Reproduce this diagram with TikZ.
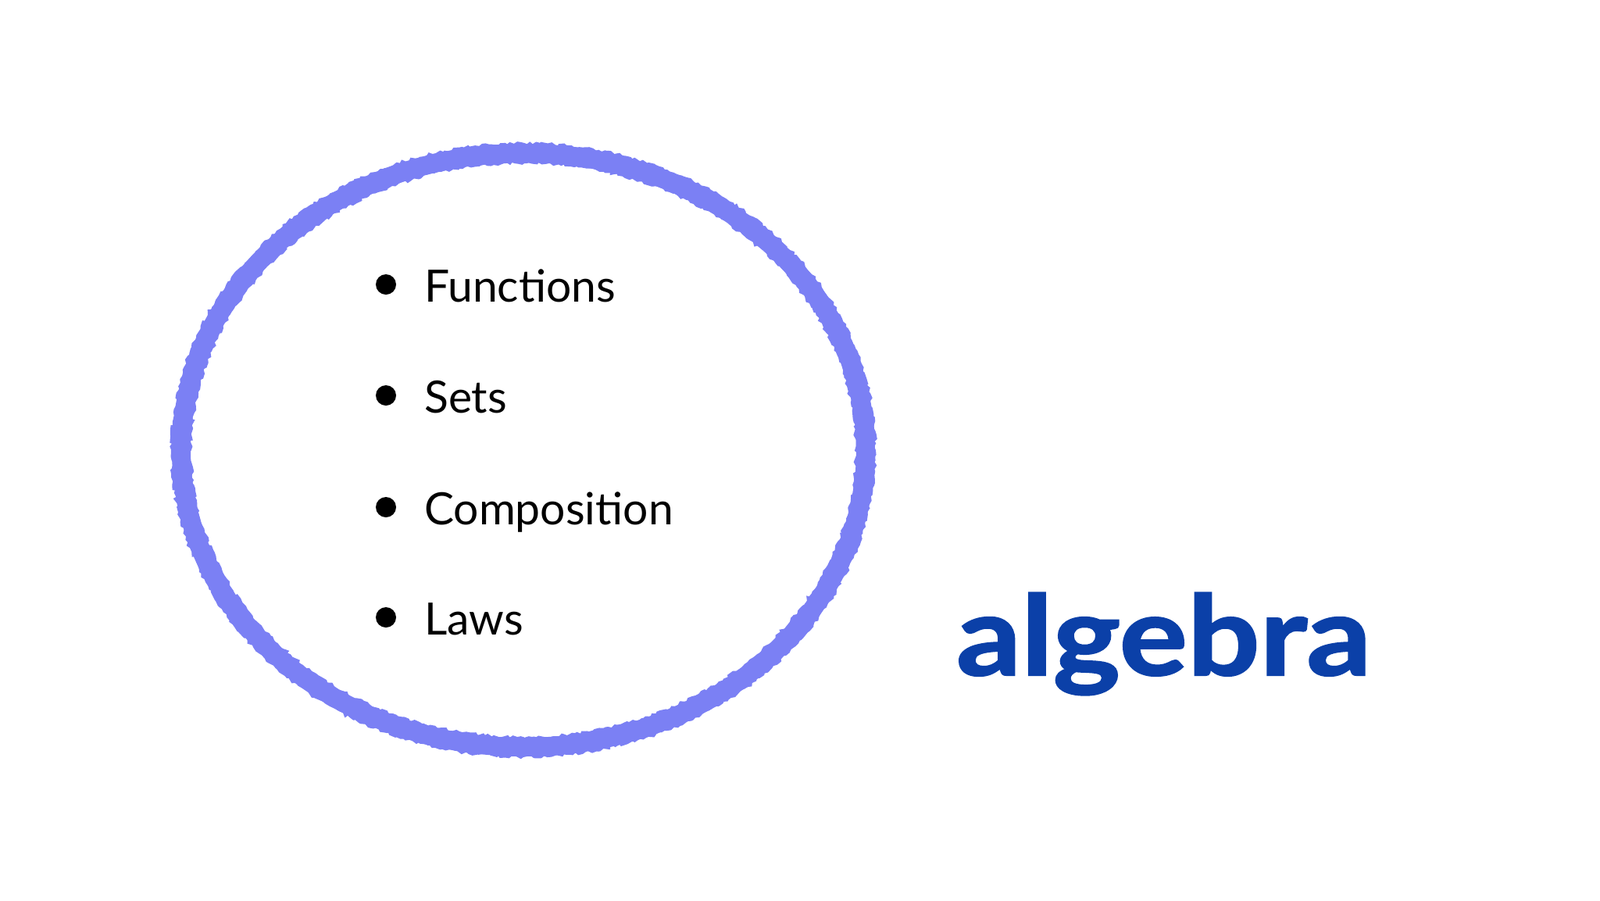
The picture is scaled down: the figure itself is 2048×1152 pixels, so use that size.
\documentclass[tikz,border=0pt]{standalone}
\usepackage{fontspec}
\setmainfont{Lato}
\usetikzlibrary{decorations.pathmorphing}
\definecolor{ring}{HTML}{7B80F4}
\definecolor{alg}{HTML}{0B40A8}
\tikzset{item/.style={anchor=base west,font=\fontsize{57}{60}\selectfont,inner sep=0pt},
bul/.style={circle,fill=black,minimum size=26pt,inner sep=0pt}}
\begin{document}
\begin{tikzpicture}[x=1pt,y=-1pt]
\useasboundingbox (0,0) rectangle (2048,1152);
\draw[ring,line width=24pt] (670,576) ellipse[x radius=438,y radius=380];
\draw[ring,line width=4pt,decorate,decoration={random steps,segment length=4pt,amplitude=2pt}] (670,576) ellipse[x radius=449,y radius=391];
\draw[ring,line width=4pt,decorate,decoration={random steps,segment length=4pt,amplitude=2pt}] (670,576) ellipse[x radius=427,y radius=369];
\foreach \n/\t/\y in {f/Functions/386, s/Sets/528, c/Composition/671, l/Laws/812}{
  \node[bul] (b\n) at (494,\y-22) {};
  \node[item] (t\n) at (543,\y) {\t};
}
\node[anchor=base west,inner sep=0pt,text=alg,font=\bfseries\fontsize{142}{142}\selectfont] (alg) at (1224,864) {\addfontfeature{FakeBold=1.5}\scalebox{1.15}[1]{algebra}};
\end{tikzpicture}
\end{document}
